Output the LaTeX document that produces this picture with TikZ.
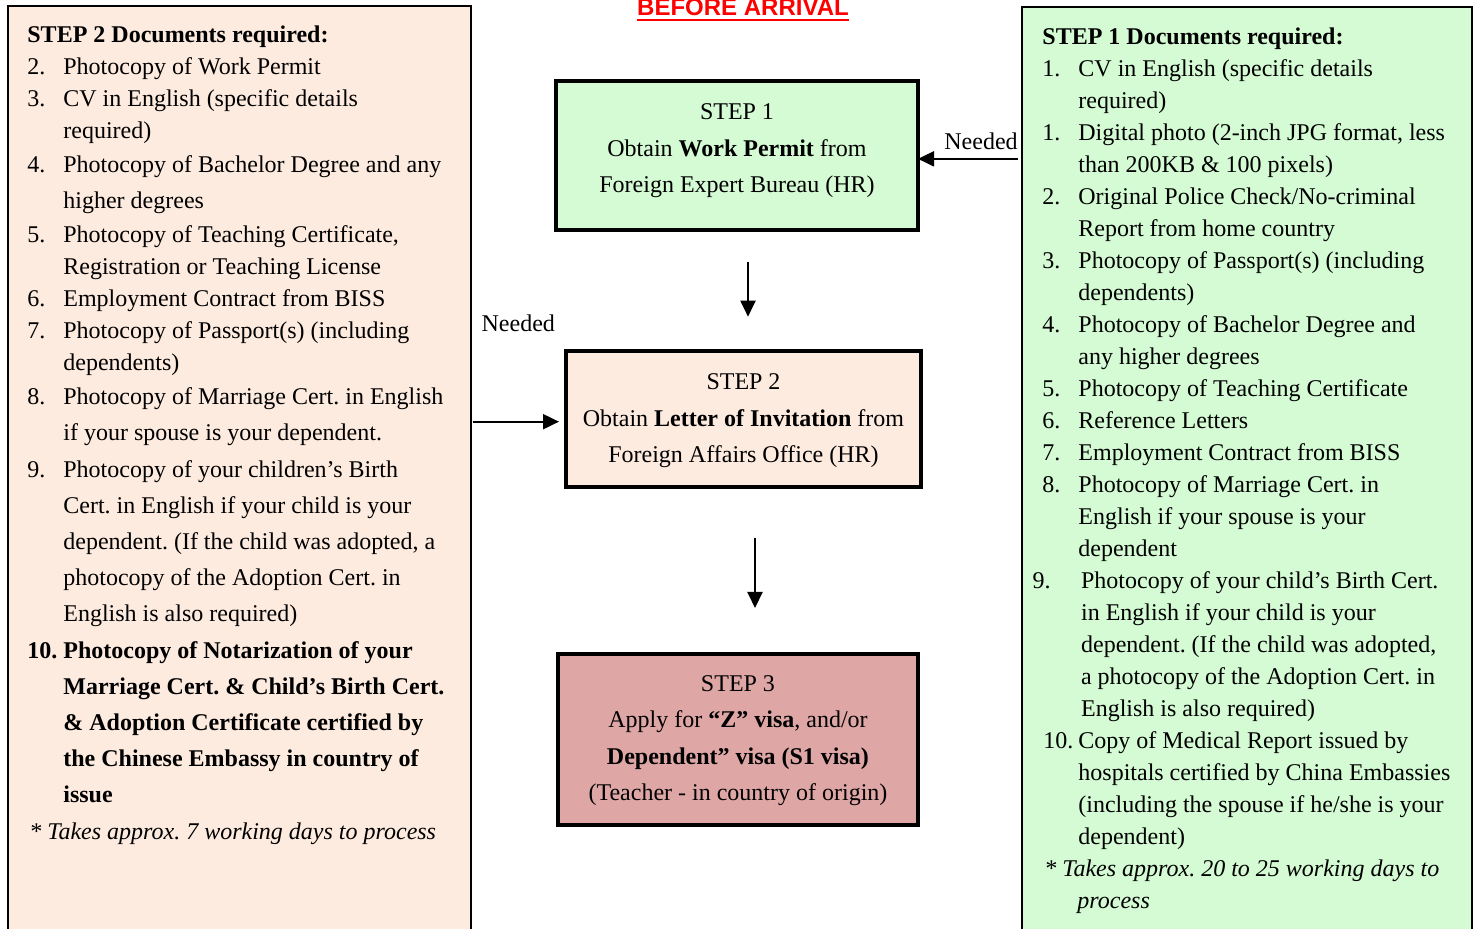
\documentclass[tikz,border=0pt]{standalone}
\usepackage{fontspec}
\setmainfont{Liberation Serif}
\newfontfamily\titlefont{Liberation Sans}
\usepackage{tikz}
\usetikzlibrary{positioning,arrows.meta}

\definecolor{peach}{RGB}{253,235,223}
\definecolor{mint}{RGB}{212,251,212}
\definecolor{rose}{RGB}{223,166,166}

\newcommand{\docitem}[2][18pt]{\par\hangindent=#1\hangafter=1\noindent\makebox[#1][l]{#2}}
\frenchspacing

\begin{document}
\begin{tikzpicture}[
    x=0.5pt, y=-0.5pt,
    panel/.style={draw, line width=1pt, outer sep=0pt, inner sep=0pt, anchor=north west, minimum height=480pt},
    listtext/.style={anchor=base west, inner sep=0pt, text width=#1, align=flush left, font=\fontsize{12}{16}\selectfont},
    stepbox/.style={draw, line width=2pt, outer sep=0pt, inner sep=0pt, align=center, font=\fontsize{12}{18.25}\selectfont},
    arrow/.style={-{Triangle[length=8pt,width=7.5pt]}, line width=1pt},
    needed/.style={anchor=base, inner sep=0pt, font=\fontsize{12}{14}\selectfont}
]
\useasboundingbox (0,0) rectangle (1477,929);

% Title
\node[anchor=base, inner sep=0pt, text=red, font=\titlefont\bfseries\fontsize{12}{14}\selectfont] (title) at (743,15.5) {BEFORE ARRIVAL};
\draw[red, line width=1pt] ([yshift=-1.75pt]title.south west) -- ([yshift=-1.75pt]title.south east);

% Document panels
\node[panel, fill=peach, minimum width=231.25pt] (docs2) at (8,6.5) {};
\node[panel, fill=mint, minimum width=224.75pt] (docs1) at (1022,7.5) {};

% STEP 2 documents (left)
\node[listtext=220pt] (docs2list) at (27,42.5) {%
\textbf{STEP 2 Documents required:}
\docitem{2.}Photocopy of Work Permit
\docitem{3.}CV in English (specific details\newline required)
\par\vspace{1pt}
\docitem{4.}Photocopy of Bachelor Degree and any\vspace{2pt}\newline higher degrees
\par\vspace{1pt}
\docitem{5.}Photocopy of Teaching Certificate,\newline Registration or Teaching License
\docitem{6.}Employment Contract from BISS
\docitem{7.}Photocopy of Passport(s) (including\newline dependents)
\par\vspace{-1pt}
\docitem{8.}\fontsize{12}{18.1}\selectfont Photocopy of Marriage Cert. in English\newline if your spouse is your dependent.
\docitem{9.}Photocopy of your children’s Birth\newline Cert. in English if your child is your\newline dependent. (If the child was adopted, a\newline photocopy of the Adoption Cert. in\newline English is also required)
{\bfseries\docitem{10.}Photocopy of Notarization of your\newline Marriage Cert. \& Child’s Birth Cert.\newline \& Adoption Certificate certified by\newline the Chinese Embassy in country of\newline issue\par}
\noindent\hspace*{1pt}\textit{* Takes approx. 7 working days to process}\par};

% STEP 1 documents (right)
\node[listtext=212pt] (docs1list) at (1042,44.5) {%
\textbf{STEP 1 Documents required:}
\docitem{1.}CV in English (specific details\newline required)
\docitem{1.}Digital photo (2-inch JPG format, less\newline than 200KB \& 100 pixels)
\docitem{2.}Original Police Check/No-criminal\newline Report from home country
\docitem{3.}Photocopy of Passport(s) (including\newline dependents)
\docitem{4.}Photocopy of Bachelor Degree and\newline any higher degrees
\docitem{5.}Photocopy of Teaching Certificate
\docitem{6.}Reference Letters
\docitem{7.}Employment Contract from BISS
\docitem{8.}Photocopy of Marriage Cert. in\newline English if your spouse is your\newline dependent
\docitem[19.35pt]{\hspace*{-4.85pt}9.}Photocopy of your child’s Birth Cert.\newline in English if your child is your\newline dependent. (If the child was adopted,\newline a photocopy of the Adoption Cert. in\newline English is also required)
\docitem{\hspace*{0.5pt}10.}Copy of Medical Report issued by\newline hospitals certified by China Embassies\newline (including the spouse if he/she is your\newline dependent)
\par\hangindent=17.5pt\hangafter=1\noindent\hspace*{1pt}\textit{* Takes approx. 20 to 25 working days to\newline process}\par};

% Steps
\node[stepbox, fill=mint, minimum width=181pt, minimum height=74.35pt] (s1) at (737,155.35) {STEP 1\\Obtain \textbf{Work Permit} from\\Foreign Expert Bureau (HR)\rule[-7.1pt]{0pt}{7.1pt}};
\node[stepbox, fill=peach, minimum width=177.5pt, minimum height=68pt] (s2) at (743.5,419) {\rule{0pt}{10pt}STEP 2\\Obtain \textbf{Letter of Invitation} from\\Foreign Affairs Office (HR)};
\node[stepbox, fill=rose, minimum width=180pt, minimum height=85.5pt] (s3) at (738,739.2) {\rule{0pt}{9.5pt}STEP 3\\Apply for \textbf{“Z” visa}, and/or\\\textbf{Dependent” visa (S1 visa)}\\(Teacher - in country of origin)};

% Arrows
\coordinate (a1) at ([xshift=5.5pt]s1.south);
\coordinate (a2) at ([xshift=5.75pt]s2.south);
\draw[arrow, shorten <=16.15pt, shorten >=17.15pt] (a1) -- (a1 |- s2.north);
\draw[arrow, shorten <=25.35pt, shorten >=22.85pt] (a2) -- (a2 |- s3.north);

\coordinate (need1) at ([yshift=-1.75pt]s1.east);
\coordinate (need2) at ([yshift=-1.35pt]s2.west);
\draw[arrow, shorten <=2.25pt] (need1 -| docs1.west) -- node[needed, xshift=5.5pt, yshift=4.65pt] {Needed} (need1);
\draw[arrow, shorten <=1pt, shorten >=3.5pt] (need2 -| docs2.east) -- node[needed, yshift=45pt] {Needed} (need2);

\end{tikzpicture}
\end{document}
